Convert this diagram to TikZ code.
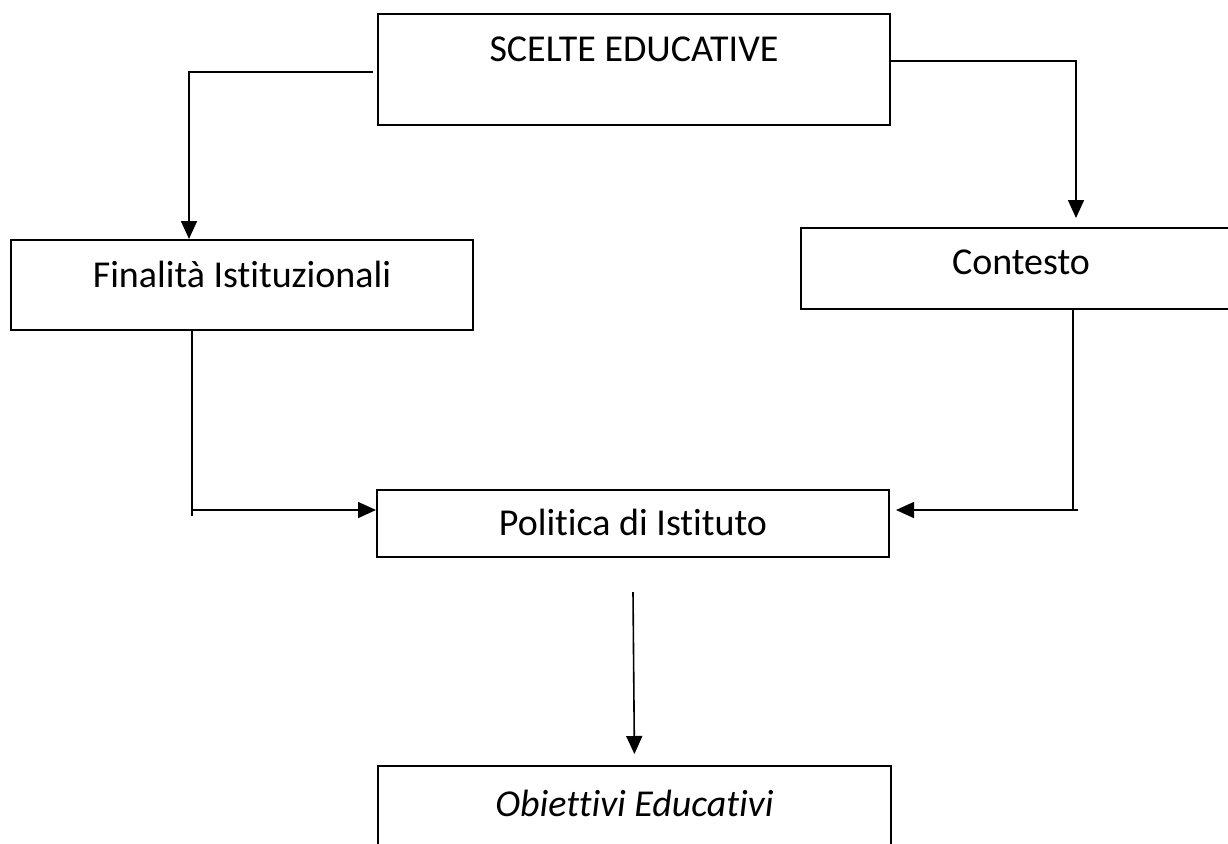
\documentclass[tikz,border=0pt]{standalone}
\usepackage{fontspec}
\setmainfont{Carlito}[Ligatures=NoCommon, RawFeature={-calt}]
\usetikzlibrary{arrows.meta}

\tikzset{
  box/.style={draw, line width=2pt, inner sep=0pt, anchor=north west, align=center,
    font=\fontsize{38}{45}\selectfont},
  conn/.style={line width=1.6pt},
  arr/.style={conn, -{Triangle[length=18pt,width=16pt]}},
}

\begin{document}
\begin{tikzpicture}[x=1pt,y=-1pt]
  \useasboundingbox (0,0) rectangle (1228,843);
  \clip (0,0) rectangle (1228,843);

  \node[box, minimum width=512pt, text height=47pt, text depth=64pt] (scelte) at (377,13) {SCELTE EDUCATIVE};
  \node[box, minimum width=462pt, text height=47pt, text depth=43pt] (finalita) at (10,239) {Finalità Istituzionali};
  \node[box, minimum width=440pt, text height=46pt, text depth=35pt] (contesto) at (800,227) {Contesto};
  \node[box, minimum width=512pt, text height=45pt, text depth=22pt] (politica) at (376,489) {Politica di Istituto};
  \node[box, minimum width=513pt, text height=50pt, text depth=70pt, font=\fontsize{38}{45}\selectfont\itshape] (obiettivi) at (377,765) {Obiettivi Educativi};

  \coordinate (lbend) at (189,72);
  \coordinate (rbend) at (1076,61);
  \coordinate (fbend) at (192,510);
  \coordinate (cbend) at (1073,510);

  \draw[arr, shorten <=4pt] (scelte.west |- lbend) -- (lbend) -- (finalita.north -| lbend);
  \draw[arr, shorten >=9pt] (scelte.east |- rbend) -- (rbend) -- (contesto.north -| rbend);

  \draw[conn] (finalita.south -| fbend) -- ([yshift=-6pt]fbend);
  \draw[arr] (fbend) -- (politica.west |- fbend);
  \draw[conn] (contesto.south -| cbend) -- (cbend);
  \draw[arr, shorten >=6pt] ([xshift=5pt]cbend) -- (politica.east |- cbend);

  \draw[arr, shorten >=11pt] ([yshift=-34pt]politica.south) -- (obiettivi.north);
\end{tikzpicture}
\end{document}
